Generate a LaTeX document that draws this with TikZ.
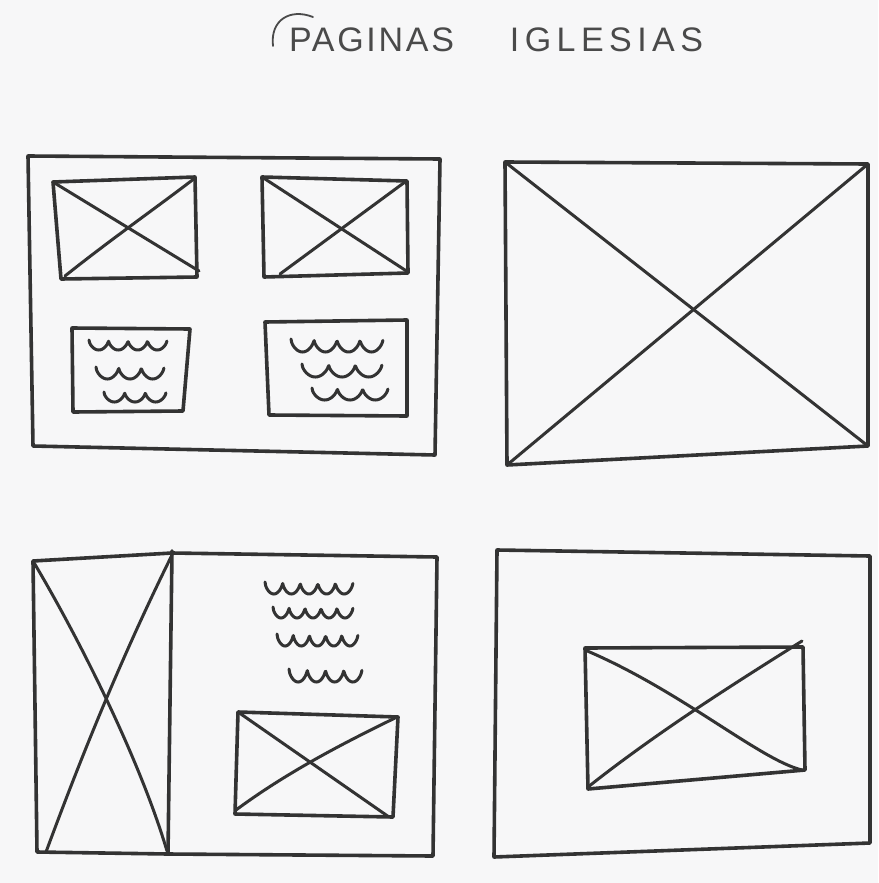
\documentclass[tikz,border=0pt]{standalone}
\usepackage{fontspec}
\setmainfont{Liberation Sans}
\definecolor{ink}{HTML}{333333}
\definecolor{paper}{HTML}{F7F7F8}
\definecolor{pencil}{HTML}{4A4A4A}
\tikzset{
  sketch/.style={draw=ink, line width=3.6pt, line join=round, line cap=round},
  thinx/.style={draw=ink, line width=3pt, line cap=round},
  wave/.style={draw=ink, line width=3pt, line cap=round, line join=round},
  titletext/.style={text=pencil, font=\fontsize{34}{34}\selectfont\addfontfeature{LetterSpace=8}, inner sep=0pt}
}
% squiggle: x0, y0, x1, depth, humps
\newcommand\squiggle[5]{%
  \draw[wave] plot[domain=0:1, samples=120, variable=\t]
    ({#1+\t*(#3-#1)}, {#2+#4*(abs(sin(180*#5*\t)))^0.55});}
\begin{document}
\begin{tikzpicture}[x=1pt, y=-1pt]
\useasboundingbox[fill=paper] (0,0) rectangle (878,883);

% title
\node[titletext] (title) at (496,40) {PAGINAS\hspace{56pt}{\addfontfeature{LetterSpace=16}IGLESIAS}};
\draw[draw=pencil, line width=1.8pt, line cap=round] (273,46) .. controls (270,20) and (290,8) .. (313,17);

% ---------- panel 1 (top left) ----------
\draw[sketch] (28,156) -- (440,159) -- (435,455) -- (33,446) -- cycle;
% image 1
\draw[sketch] (53,182) -- (195,177) -- (197,277) -- (61,279) -- cycle;
\draw[thinx] (53,182) -- (199,271);
\draw[thinx] (65,276) .. controls (110,240) and (160,205) .. (195,178);
% image 2
\draw[sketch] (262,177) -- (407,181) -- (408,273) -- (264,277) -- cycle;
\draw[thinx] (262,177) -- (408,272);
\draw[thinx] (280,274) -- (405,182);
% text box 1
\draw[sketch] (72,328) -- (190,329) -- (183,411) -- (73,412) -- cycle;
\squiggle{89}{340}{167}{10}{4}
\squiggle{96}{367}{164}{12}{3}
\squiggle{104}{392}{166}{10}{3}
% text box 2
\draw[sketch] (265,322) -- (407,320) -- (407,416) -- (269,415) -- cycle;
\squiggle{291}{339}{383}{13}{4}
\squiggle{302}{364}{382}{13}{3}
\squiggle{312}{388}{388}{12}{3}

% ---------- panel 2 (top right) ----------
\draw[sketch] (505,162) -- (868,164) -- (868,446) -- (507,465) -- cycle;
\draw[thinx] (505,162) -- (868,446);
\draw[thinx] (507,465) -- (868,164);

% ---------- panel 3 (bottom left) ----------
\draw[sketch] (33,561) -- (172,553) -- (437,557) -- (433,856) -- (168,854) -- (37,852) -- cycle;
\draw[sketch] (172,551) -- (168,854);
\draw[thinx] (33,561) .. controls (80,640) and (140,760) .. (167,851);
\draw[thinx] (172,555) .. controls (120,660) and (80,760) .. (46,852);
\squiggle{265}{582}{353}{12}{5}
\squiggle{273}{607}{353}{11}{5}
\squiggle{277}{634}{358}{12}{5}
\squiggle{289}{669}{362}{13}{4}
% image
\draw[sketch] (238,712) -- (398,717) -- (393,817) -- (235,814) -- cycle;
\draw[thinx] (238,712) -- (389,817);
\draw[thinx] (236,810) .. controls (290,770) and (350,740) .. (395,718);

% ---------- panel 4 (bottom right) ----------
\draw[sketch] (497,550) -- (870,556) -- (870,843) -- (494,857) -- cycle;
\draw[sketch] (585,648) -- (803,647) -- (805,770) -- (588,789) -- cycle;
\draw[thinx] (585,650) .. controls (680,690) and (760,760) .. (802,770);
\draw[thinx] (588,787) .. controls (660,730) and (740,680) .. (802,641);
\end{tikzpicture}
\end{document}
